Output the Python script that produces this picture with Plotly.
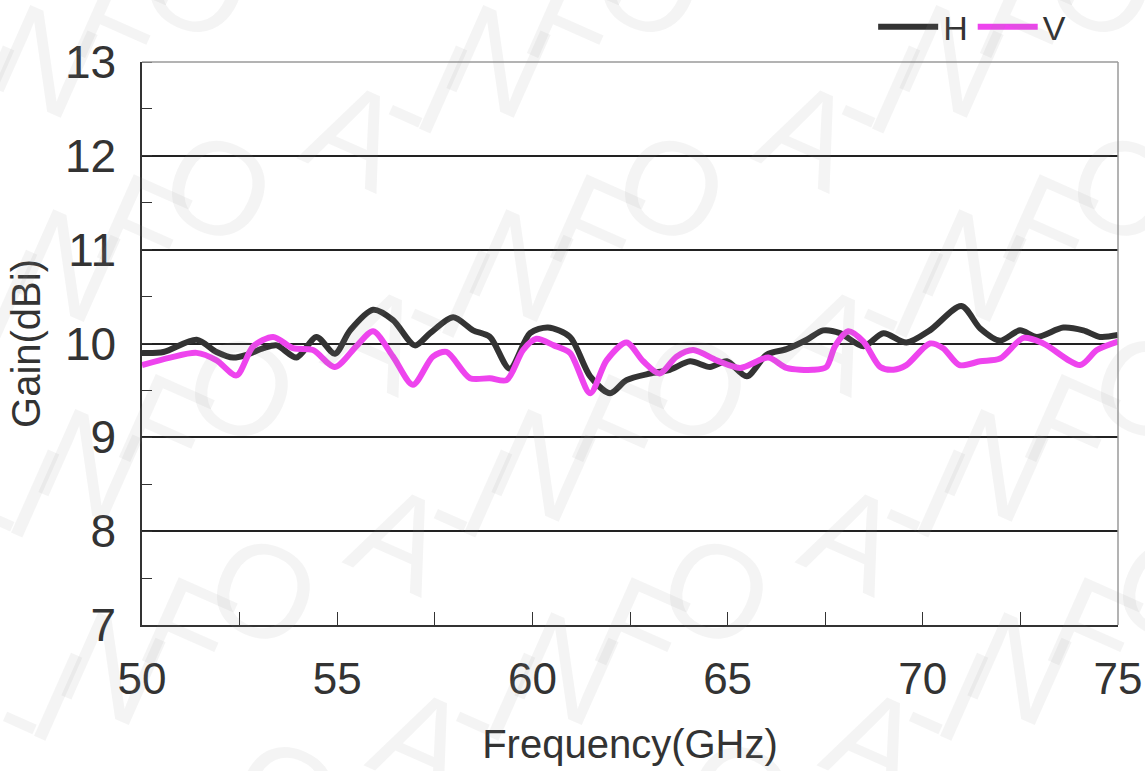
import math
import plotly.graph_objects as go

freq_h = [50.00, 50.55, 51.40, 51.91, 52.34, 52.68, 53.11, 53.45, 53.96, 54.47, 54.94, 55.33,
          55.92, 56.43, 56.99, 57.38, 57.97, 58.48, 58.91, 59.42, 59.94, 60.40, 60.96, 61.48,
          61.99, 62.41, 63.01, 63.52, 64.04, 64.55, 64.98, 65.49, 66.00, 66.51, 67.03, 67.45,
          67.88, 68.48, 68.99, 69.58, 70.18, 70.99, 71.47, 71.98, 72.49, 72.92, 73.60, 74.11,
          74.54, 75.00]
gain_h = [9.90, 9.91, 10.04, 9.91, 9.85, 9.88, 9.95, 9.98, 9.85, 10.07, 9.89, 10.14,
          10.36, 10.25, 9.98, 10.11, 10.28, 10.14, 10.07, 9.73, 10.11, 10.17, 10.07, 9.65,
          9.47, 9.61, 9.68, 9.72, 9.81, 9.75, 9.81, 9.65, 9.88, 9.94, 10.04, 10.14,
          10.11, 9.97, 10.11, 10.01, 10.14, 10.40, 10.16, 10.03, 10.14, 10.07, 10.17, 10.14,
          10.07, 10.09]

freq_v = [50.00, 50.72, 51.40, 51.91, 52.42, 52.85, 53.36, 53.87, 54.38, 54.94, 55.49, 55.92,
          56.43, 56.94, 57.45, 57.80, 58.40, 58.91, 59.34, 59.76, 60.10, 60.55, 60.96, 61.48,
          61.90, 62.41, 62.84, 63.26, 63.69, 64.12, 64.72, 65.32, 66.04, 66.51, 67.19, 67.53,
          67.75, 68.09, 68.48, 68.91, 69.25, 69.58, 70.18, 70.52, 70.94, 71.47, 71.98, 72.58,
          73.09, 74.03, 74.46, 75.00]
gain_v = [9.77, 9.85, 9.90, 9.82, 9.66, 9.97, 10.07, 9.95, 9.93, 9.75, 9.97, 10.13,
          9.86, 9.56, 9.86, 9.91, 9.63, 9.63, 9.61, 9.93, 10.05, 9.98, 9.90, 9.47,
          9.82, 10.01, 9.81, 9.68, 9.86, 9.93, 9.82, 9.74, 9.85, 9.74, 9.72, 9.75,
          9.97, 10.13, 10.02, 9.75, 9.72, 9.77, 10.00, 9.95, 9.77, 9.81, 9.84, 10.06,
          10.00, 9.77, 9.93, 10.02]

series_names = ["H", "V"]
series_colors = ["#333333", "#EE44EE"]

x_ticks = [50, 55, 60, 65, 70, 75]
y_ticks = [7, 8, 9, 10, 11, 12, 13]

watermark_text = "A-INFO"

FONT = "Liberation Sans, Arial, sans-serif"
W, H = 1145, 771
l, r, t, b = 142, 27, 62, 146
pw, ph = W - l - r, H - t - b

fig = go.Figure()
for name, xs, ys, col in zip(series_names, [freq_h, freq_v], [gain_h, gain_v], series_colors):
    fig.add_trace(go.Scatter(x=xs, y=ys, name=name, mode="lines",
                             line=dict(color=col, width=6, shape="spline", smoothing=0.8)))

# faint slanted watermark, letter by letter
adv = {"A": 0.667, "-": 0.333, "I": 0.278, "N": 0.722, "F": 0.611, "O": 0.778}
em = 124
ang = math.radians(27)
ux, uy = math.cos(ang), -math.sin(ang)
total = sum(adv[c] for c in watermark_text)
base_cols = [52, 505, 958]
rows_y = [58, 262, 462, 665, 868]
for ri, ry in enumerate(rows_y):
    for cx0 in base_cols:
        cx = cx0 + 22.5 * ri
        pos = 0.0
        for ch in watermark_text:
            s = (pos + adv[ch] / 2 - total / 2) * em
            px, py = cx + s * ux, ry + s * uy
            pos += adv[ch]
            fig.add_annotation(x=(px - l) / pw, y=(H - b - py) / ph, xref="paper", yref="paper",
                               text=ch, showarrow=False, textangle=24,
                               xanchor="center", yanchor="middle",
                               font=dict(family=FONT, size=132, color="rgba(150,150,150,0.10)"))

fig.add_shape(type="line", xref="paper", yref="paper", x0=0, x1=1, y0=1, y1=1,
              line=dict(color="#9a9a9a", width=1.5))
fig.add_shape(type="line", xref="paper", yref="paper", x0=1, x1=1, y0=0, y1=1,
              line=dict(color="#9a9a9a", width=1.5))

fig.update_layout(
    width=W, height=H,
    margin=dict(l=l, r=r, t=t, b=b, autoexpand=False),
    paper_bgcolor="white", plot_bgcolor="rgba(0,0,0,0)",
    font=dict(family=FONT, color="#333333"),
    showlegend=True,
    legend=dict(orientation="h", x=0.952, xanchor="right", y=1.062, yanchor="middle",
                font=dict(size=34, color="#333333"), bgcolor="rgba(0,0,0,0)",
                itemwidth=60, tracegroupgap=0),
    xaxis=dict(range=[50, 75], tickvals=x_ticks, ticktext=[str(v) for v in x_ticks],
               showgrid=False, zeroline=False, showline=True, linecolor="#333333", linewidth=1.5,
               ticks="inside", ticklen=13, tickwidth=1.2, tickcolor="#333333",
               minor=dict(dtick=2.5, ticks="inside", ticklen=13, tickwidth=1.2, tickcolor="#333333", showgrid=False),
               tickfont=dict(size=44, color="#333333"), ticklabelstandoff=14,
               title=dict(text="Frequency(GHz)", font=dict(size=40, color="#333333"), standoff=28)),
    yaxis=dict(range=[7, 13], tickvals=y_ticks, ticktext=[str(v) for v in y_ticks],
               showgrid=True, gridcolor="#222222", gridwidth=1.5, zeroline=False,
               showline=True, linecolor="#333333", linewidth=1.5,
               ticks="", minor=dict(dtick=0.5, tick0=7, ticks="inside", ticklen=10, tickwidth=1.2,
                                    tickcolor="#333333", showgrid=False),
               tickfont=dict(size=46, color="#333333"), ticklabelstandoff=15,
               title=dict(text="Gain(dBi)", font=dict(size=40, color="#333333"), standoff=12)),
)

fig.write_html("out.html", config={"displayModeBar": False},
               post_script="document.body.style.margin='0';")
